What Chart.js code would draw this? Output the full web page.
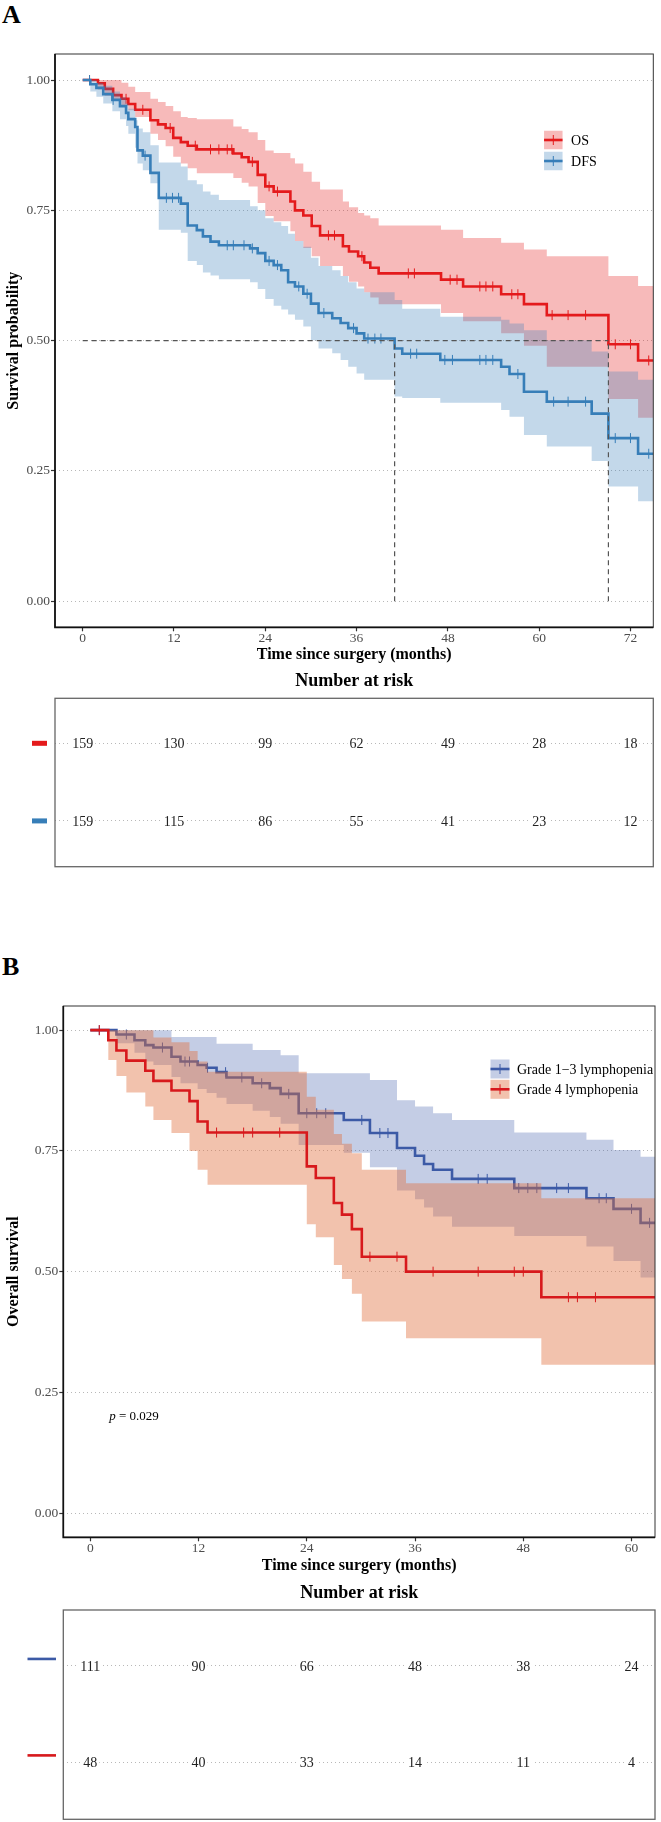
<!DOCTYPE html>
<html>
<head>
<meta charset="utf-8">
<title>Survival curves</title>
<script src="https://cdn.jsdelivr.net/npm/chart.js"></script>
<style>
  body { margin: 0; background: #fff; }
  #page { position: relative; width: 661px; height: 1822px; background: #fff; overflow: hidden; }
  #page canvas { position: absolute; left: 0; }
  .tag { position: absolute; left: 2px; font: bold 26px/1 "Liberation Serif", "Times New Roman", serif; color: #000; }
</style>
</head>
<body>
<div id="page">
  <div class="tag" style="top:2px">A</div>
  <canvas id="mainA" width="661" height="624" style="top:40px;width:661px;height:624px"></canvas>
  <canvas id="riskA" width="661" height="202" style="top:668px;width:661px;height:202px"></canvas>
  <div class="tag" style="top:954px">B</div>
  <canvas id="mainB" width="661" height="585" style="top:990px;width:661px;height:585px"></canvas>
  <canvas id="riskB" width="661" height="244" style="top:1578px;width:661px;height:244px"></canvas>
</div>
<script>
// ================= DATA : PANEL A =================
const timeTicksA = [0, 12, 24, 36, 48, 60, 72];
const survTicks = [0, 0.25, 0.5, 0.75, 1];

// OS (overall survival)
const osTime  = [0, 2.0, 2.9, 4.0, 5.1, 6.0, 6.9, 8.9, 9.9, 10.9, 11.9, 12.9, 13.8, 15.0, 19.8, 20.9, 21.8, 23.0, 24.0, 25.1, 27.3, 27.9, 29.0, 30.1, 31.2, 34.2, 35.0, 36.2, 37.0, 37.8, 38.9, 47.1, 50.0, 55.0, 58.0, 61.0, 69.1, 73.0, 75];
const osSurv  = [1, 0.994, 0.983, 0.971, 0.964, 0.954, 0.943, 0.923, 0.915, 0.908, 0.889, 0.881, 0.874, 0.867, 0.859, 0.852, 0.843, 0.818, 0.796, 0.786, 0.767, 0.750, 0.740, 0.720, 0.702, 0.681, 0.671, 0.662, 0.650, 0.640, 0.629, 0.617, 0.604, 0.589, 0.570, 0.549, 0.493, 0.462, 0.462];
const osUpper = [1, 1, 1, 1, 0.995, 0.987, 0.977, 0.964, 0.958, 0.950, 0.940, 0.929, 0.927, 0.925, 0.911, 0.906, 0.900, 0.885, 0.865, 0.860, 0.850, 0.840, 0.824, 0.805, 0.790, 0.767, 0.756, 0.745, 0.740, 0.735, 0.721, 0.713, 0.697, 0.688, 0.675, 0.662, 0.624, 0.605, 0.605];
const osLower = [1, 0.982, 0.970, 0.961, 0.951, 0.942, 0.929, 0.897, 0.885, 0.873, 0.853, 0.840, 0.831, 0.821, 0.812, 0.803, 0.796, 0.764, 0.739, 0.729, 0.710, 0.691, 0.678, 0.662, 0.643, 0.624, 0.613, 0.604, 0.593, 0.583, 0.570, 0.553, 0.537, 0.514, 0.490, 0.450, 0.388, 0.352, 0.352];
const osCensor = [0.9, 5.7, 7.9, 11.5, 14.8, 16.8, 17.9, 19.0, 19.6, 22.3, 24.5, 25.6, 32.3, 33.1, 36.7, 42.8, 43.6, 48.3, 49.2, 52.2, 53.0, 53.9, 56.4, 57.2, 61.7, 63.8, 66.1, 70.0, 72.0, 74.4];

// DFS (disease-free survival)
const dfsTime  = [0, 1.0, 1.8, 2.7, 3.9, 4.9, 5.7, 6.0, 6.9, 7.2, 7.9, 8.9, 10.0, 12.9, 13.8, 15.0, 15.8, 16.8, 17.9, 22.0, 23.0, 24.0, 25.1, 26.1, 27.0, 27.9, 29.0, 30.0, 31.0, 32.8, 33.9, 34.9, 36.0, 37.0, 41.0, 42.0, 47.0, 55.0, 56.1, 58.0, 61.0, 66.9, 69.1, 73.0, 75];
const dfsSurv  = [1, 0.992, 0.985, 0.973, 0.962, 0.950, 0.937, 0.925, 0.910, 0.865, 0.855, 0.822, 0.774, 0.763, 0.721, 0.712, 0.700, 0.690, 0.683, 0.677, 0.668, 0.653, 0.645, 0.635, 0.612, 0.604, 0.590, 0.571, 0.553, 0.543, 0.534, 0.524, 0.514, 0.504, 0.485, 0.475, 0.463, 0.450, 0.436, 0.402, 0.383, 0.360, 0.313, 0.283, 0.283];
const dfsUpper = [1, 1, 0.995, 0.989, 0.978, 0.967, 0.955, 0.945, 0.923, 0.907, 0.900, 0.875, 0.842, 0.834, 0.808, 0.800, 0.786, 0.780, 0.770, 0.758, 0.750, 0.735, 0.727, 0.720, 0.705, 0.691, 0.680, 0.659, 0.643, 0.635, 0.624, 0.612, 0.600, 0.593, 0.578, 0.561, 0.546, 0.540, 0.533, 0.520, 0.501, 0.479, 0.441, 0.425, 0.425];
const dfsLower = [1, 0.978, 0.968, 0.955, 0.940, 0.925, 0.912, 0.897, 0.870, 0.840, 0.827, 0.802, 0.713, 0.707, 0.653, 0.645, 0.631, 0.625, 0.618, 0.612, 0.599, 0.580, 0.567, 0.560, 0.550, 0.540, 0.527, 0.501, 0.485, 0.476, 0.463, 0.450, 0.437, 0.425, 0.393, 0.390, 0.381, 0.367, 0.354, 0.319, 0.297, 0.269, 0.220, 0.192, 0.192];
const dfsCensor = [0.9, 4.0, 8.2, 11.0, 11.8, 12.6, 19.0, 19.8, 21.2, 22.3, 24.5, 25.6, 28.4, 29.5, 31.7, 35.6, 37.5, 38.4, 39.2, 43.1, 43.9, 47.6, 48.6, 52.2, 53.0, 53.9, 57.2, 61.9, 63.8, 66.1, 70.0, 72.0, 74.4];

const medianTimesA = [41.0, 69.1];   // DFS and OS medians

const riskTimesA = [0, 12, 24, 36, 48, 60, 72];
const osRisk  = [159, 130, 99, 62, 49, 28, 18];
const dfsRisk = [159, 115, 86, 55, 41, 23, 12];

// ================= DATA : PANEL B =================
const timeTicksB = [0, 12, 24, 36, 48, 60];

// Grade 1-3 lymphopenia
const g13Time  = [0, 2.9, 4.9, 6.1, 7.0, 9.0, 10.0, 11.9, 12.9, 14.0, 15.1, 18.0, 19.9, 21.1, 23.1, 28.1, 31.0, 34.0, 36.0, 37.0, 38.0, 40.1, 47.0, 55.0, 58.0, 61.0, 62.6];
const g13Surv  = [1, 0.991, 0.979, 0.969, 0.964, 0.945, 0.935, 0.928, 0.922, 0.913, 0.902, 0.890, 0.880, 0.868, 0.828, 0.814, 0.787, 0.756, 0.740, 0.723, 0.711, 0.692, 0.673, 0.652, 0.630, 0.601, 0.601];
const g13Upper = [1, 1, 1, 1, 1, 0.986, 0.986, 0.986, 0.986, 0.972, 0.972, 0.959, 0.959, 0.948, 0.911, 0.911, 0.897, 0.855, 0.842, 0.842, 0.828, 0.814, 0.788, 0.773, 0.752, 0.738, 0.738];
const g13Lower = [1, 0.973, 0.953, 0.935, 0.928, 0.903, 0.890, 0.878, 0.870, 0.860, 0.847, 0.833, 0.820, 0.806, 0.762, 0.746, 0.716, 0.668, 0.650, 0.633, 0.614, 0.593, 0.574, 0.552, 0.522, 0.488, 0.488];
const g13Censor = [1.0, 4.0, 8.0, 10.5, 11.0, 13.0, 15.0, 16.8, 19.0, 22.0, 24.0, 25.1, 26.1, 30.1, 32.1, 33.0, 43.0, 44.0, 47.5, 48.5, 49.5, 51.7, 53.0, 56.4, 57.2, 60.0, 62.0];

// Grade 4 lymphopenia
const g4Time  = [0, 2.0, 2.9, 4.0, 6.1, 7.0, 9.0, 11.0, 11.9, 13.0, 24.0, 25.0, 27.0, 27.9, 29.0, 30.1, 35.0, 50.0, 62.6];
const g4Surv  = [1, 0.979, 0.958, 0.937, 0.916, 0.895, 0.875, 0.853, 0.811, 0.788, 0.718, 0.694, 0.642, 0.618, 0.588, 0.531, 0.500, 0.447, 0.447];
const g4Upper = [1, 1, 1, 1, 1, 0.985, 0.975, 0.957, 0.935, 0.914, 0.862, 0.835, 0.785, 0.765, 0.745, 0.711, 0.683, 0.652, 0.652];
const g4Lower = [1, 0.938, 0.905, 0.871, 0.842, 0.814, 0.787, 0.750, 0.711, 0.680, 0.598, 0.571, 0.514, 0.485, 0.454, 0.397, 0.362, 0.307, 0.307];
const g4Censor = [1.0, 14.0, 17.0, 18.0, 21.0, 31.0, 34.0, 38.0, 43.0, 47.0, 48.0, 53.0, 54.0, 56.0];

const riskTimesB = [0, 12, 24, 36, 48, 60];
const g13Risk = [111, 90, 66, 48, 38, 24];
const g4Risk  = [48, 40, 33, 14, 11, 4];

const pValueText = "0.029";
const pValueAt = [2.1, 0.2];

// ================= HELPERS =================
const SERIF = '"Liberation Serif", "Times New Roman", serif';
Chart.defaults.font.family = SERIF;

function stepData(times, vals) {
  return times.map((t, i) => ({ x: t, y: vals[i] }));
}

// value of a step curve at time t (used to put censor marks on the curve)
function valueAt(times, vals, t) {
  let k = 0;
  for (let i = 0; i < times.length; i++) if (times[i] <= t) k = i;
  return vals[k];
}

// ribbon (upper+lower), curve, censor ticks
function groupSets(time, surv, upper, lower, censor, color, band, order) {
  return [
    { data: stepData(time, upper), stepped: true, borderWidth: 0, borderColor: "transparent",
      pointRadius: 0, fill: "+1", backgroundColor: band, order: order },
    { data: stepData(time, lower), stepped: true, borderWidth: 0, borderColor: "transparent",
      pointRadius: 0, fill: false, order: order - 1 },
    { data: stepData(time, surv), stepped: true, borderWidth: 2.6, borderColor: color,
      pointRadius: 0, fill: false, order: order - 2 },
    { data: censor.map(t => ({ x: t, y: valueAt(time, surv, t) })), showLine: false,
      pointStyle: "line", rotation: 90, pointRadius: 5, pointBorderWidth: 1,
      pointBorderColor: color, pointBackgroundColor: color, order: order - 3 }
  ];
}

// ================= PLUGINS =================
const frame = {
  id: "frame",
  afterDraw(chart, args, opts) {
    const { ctx, chartArea: a } = chart;
    ctx.save();
    ctx.strokeStyle = opts.color;
    ctx.lineWidth = opts.width;
    ctx.strokeRect(a.left, a.top, a.right - a.left, a.bottom - a.top);
    if (opts.axes) {
      ctx.strokeStyle = "#111";
      ctx.lineWidth = 1.7;
      ctx.beginPath();
      ctx.moveTo(a.left, a.top);
      ctx.lineTo(a.left, a.bottom);
      ctx.lineTo(a.right, a.bottom);
      ctx.stroke();
    }
    ctx.restore();
  }
};

const keyLegend = {
  id: "keyLegend",
  afterDraw(chart, args, opts) {
    if (!opts.items) return;
    const { ctx, chartArea: a } = chart;
    const s = opts.size;
    ctx.save();
    opts.items.forEach((it, i) => {
      const cx = a.left + opts.x, cy = a.top + opts.y + i * opts.step;
      ctx.fillStyle = it.band;
      ctx.fillRect(cx - s / 2, cy - s / 2, s, s);
      ctx.strokeStyle = it.color;
      ctx.lineWidth = 2.6;
      ctx.beginPath(); ctx.moveTo(cx - s / 2, cy); ctx.lineTo(cx + s / 2, cy); ctx.stroke();
      ctx.lineWidth = 1;
      ctx.beginPath(); ctx.moveTo(cx, cy - 5); ctx.lineTo(cx, cy + 5); ctx.stroke();
      ctx.fillStyle = "#000";
      ctx.font = "14px " + SERIF;
      ctx.textAlign = "left";
      ctx.textBaseline = "middle";
      ctx.fillText(it.text, cx + s / 2 + opts.gap, cy + 1);
    });
    ctx.restore();
  }
};

const pNote = {
  id: "pNote",
  afterDraw(chart, args, opts) {
    if (!opts.text) return;
    const { ctx, scales } = chart;
    const x = scales.x.getPixelForValue(opts.at[0]);
    const y = scales.y.getPixelForValue(opts.at[1]);
    ctx.save();
    ctx.fillStyle = "#000";
    ctx.textBaseline = "middle";
    ctx.textAlign = "left";
    ctx.font = "italic 13px " + SERIF;
    ctx.fillText("p", x, y);
    const w = ctx.measureText("p").width;
    ctx.font = "13px " + SERIF;
    ctx.fillText(" = " + opts.text, x + w, y);
    ctx.restore();
  }
};

const riskText = {
  id: "riskText",
  afterDatasetsDraw(chart) {
    const { ctx } = chart;
    const ys = chart.scales.y;
    ctx.save();
    ctx.font = "14px " + SERIF;
    ctx.textAlign = "center";
    ctx.textBaseline = "middle";
    chart.data.datasets.forEach((ds, i) => {
      const meta = chart.getDatasetMeta(i);
      meta.data.forEach((pt, j) => {
        const txt = String(ds.data[j].n);
        const w = ctx.measureText(txt).width;
        ctx.fillStyle = "#fff";
        ctx.fillRect(pt.x - w / 2 - 2, pt.y - 6, w + 4, 12);
        ctx.fillStyle = "#222";
        ctx.fillText(txt, pt.x, pt.y + 1);
      });
      const py = ys.getPixelForValue(ds.data[0].y) + ds.markerDy;
      ctx.fillStyle = ds.markerColor;
      ctx.fillRect(ds.markerX, py - ds.markerH / 2, ds.markerW, ds.markerH);
    });
    ctx.restore();
  }
};

// ================= CHART BUILDERS =================
function mainChart(id, o) {
  return new Chart(document.getElementById(id), {
    type: "line",
    data: { datasets: o.datasets },
    plugins: [frame, keyLegend, pNote],
    options: {
      responsive: false, animation: false, devicePixelRatio: 1, events: [],
      layout: { padding: { top: o.padTop, right: o.padRight, left: 0, bottom: 0 } },
      plugins: {
        legend: { display: false },
        tooltip: { enabled: false },
        frame: { color: "#333", width: 1, axes: true },
        keyLegend: o.legend,
        pNote: o.note || {}
      },
      scales: {
        x: {
          type: "linear", min: o.xMin, max: o.xMax,
          afterBuildTicks: s => { s.ticks = o.xTicks.map(v => ({ value: v })); },
          afterFit: s => { s.height = o.xAxisH; },
          grid: { drawOnChartArea: false, drawTicks: true, tickLength: 4, tickColor: "#333", tickWidth: 1.2 },
          border: { display: false },
          ticks: { color: "#4d4d4d", font: { size: 13.5, lineHeight: 1 }, padding: 0, maxRotation: 0, autoSkip: false },
          title: { display: true, text: "Time since surgery (months)", color: "#000",
                   font: { size: 16, weight: "bold" }, padding: 0 }
        },
        y: {
          type: "linear", min: -0.05, max: 1.05,
          afterBuildTicks: s => { s.ticks = survTicks.map(v => ({ value: v })); },
          afterFit: s => { s.width = o.yAxisW; },
          grid: { color: "#b8b8b8", lineWidth: 1, drawTicks: true, tickLength: 4, tickColor: "#333", tickWidth: 1.2 },
          border: { display: false, dash: [1, 3] },
          ticks: { color: "#4d4d4d", font: { size: 13.5 }, padding: 1, callback: v => v.toFixed(2) },
          title: { display: true, text: o.yTitle, color: "#000",
                   font: { size: 16, weight: "bold" }, padding: { top: 4.4, bottom: 0 } }
        }
      }
    }
  });
}

function riskChart(id, o) {
  return new Chart(document.getElementById(id), {
    type: "line",
    data: { datasets: o.datasets },
    plugins: [frame, riskText],
    options: {
      responsive: false, animation: false, devicePixelRatio: 1, events: [],
      layout: { padding: { top: 0, right: o.padRight, left: 0, bottom: o.padBottom } },
      plugins: {
        legend: { display: false },
        tooltip: { enabled: false },
        frame: { color: "#666", width: 1.3, axes: false },
        title: { display: true, text: "Number at risk", fullSize: false, color: "#000",
                 font: { size: 18, weight: "bold" }, padding: { top: o.titleTop, bottom: o.titleBottom } }
      },
      scales: {
        x: { type: "linear", display: false, min: o.xMin, max: o.xMax },
        y: {
          type: "linear", min: 0.41, max: 2.58,
          afterBuildTicks: s => { s.ticks = [1, 2].map(v => ({ value: v })); },
          afterFit: s => { s.width = o.yAxisW; },
          grid: { color: "#b8b8b8", lineWidth: 1, drawTicks: false },
          border: { display: false, dash: [1, 3] },
          ticks: { display: false }
        }
      }
    }
  });
}

function riskSet(times, counts, row, color, marker) {
  return Object.assign({
    data: times.map((t, i) => ({ x: t, y: row, n: counts[i] })),
    showLine: false, pointRadius: 0, markerColor: color
  }, marker);
}

// ================= PANEL A =================
const RED_A = "#E41A1C", BLUE_A = "#377EB8";
const RED_A_BAND = "rgba(228,26,28,0.30)", BLUE_A_BAND = "rgba(55,126,184,0.30)";

const medianStyle = { borderColor: "#555", borderWidth: 1.2, borderDash: [5, 4], pointRadius: 0, fill: false, order: 0 };

mainChart("mainA", {
  datasets: [
    ...groupSets(osTime, osSurv, osUpper, osLower, osCensor, RED_A, RED_A_BAND, 20),
    ...groupSets(dfsTime, dfsSurv, dfsUpper, dfsLower, dfsCensor, BLUE_A, BLUE_A_BAND, 15),
    Object.assign({ data: [{ x: 0, y: 0.5 }, { x: Math.max(...medianTimesA), y: 0.5 }] }, medianStyle),
    ...medianTimesA.map(m => Object.assign({ data: [{ x: m, y: 0 }, { x: m, y: 0.5 }] }, medianStyle))
  ],
  xMin: -3.64, xMax: 75, xTicks: timeTicksA,
  padTop: 14, padRight: 7.7, xAxisH: 36.7, yAxisW: 55,
  yTitle: "Survival probability",
  legend: { x: 498.3, y: 86, step: 21, size: 18.5, gap: 8.5,
            items: [{ text: "OS", color: RED_A, band: RED_A_BAND }, { text: "DFS", color: BLUE_A, band: BLUE_A_BAND }] }
});

riskChart("riskA", {
  datasets: [
    riskSet(riskTimesA, osRisk, 2, RED_A, { markerX: 32, markerW: 15, markerH: 5, markerDy: 0 }),
    riskSet(riskTimesA, dfsRisk, 1, BLUE_A, { markerX: 32, markerW: 15, markerH: 5, markerDy: 0 })
  ],
  xMin: -3.64, xMax: 75, padRight: 7.7, padBottom: 3.3, yAxisW: 55,
  titleTop: 2.2, titleBottom: 6.5
});

// ================= PANEL B =================
const BLUE_B = "#3C5AA6", RED_B = "#D7191C";
const BLUE_B_BAND = "rgba(60,90,170,0.30)", RED_B_BAND = "rgba(225,110,60,0.42)";

mainChart("mainB", {
  datasets: [
    ...groupSets(g13Time, g13Surv, g13Upper, g13Lower, g13Censor, BLUE_B, BLUE_B_BAND, 20),
    ...groupSets(g4Time, g4Surv, g4Upper, g4Lower, g4Censor, RED_B, RED_B_BAND, 15)
  ],
  xMin: -2.99, xMax: 62.6, xTicks: timeTicksB,
  padTop: 16, padRight: 6, xAxisH: 37.7, yAxisW: 63.3,
  yTitle: "Overall survival",
  legend: { x: 436.7, y: 63, step: 20.3, size: 19, gap: 7.5,
            items: [{ text: "Grade 1\u22123 lymphopenia", color: BLUE_B, band: BLUE_B_BAND },
                    { text: "Grade 4 lymphopenia", color: RED_B, band: RED_B_BAND }] },
  note: { text: pValueText, at: pValueAt }
});

riskChart("riskB", {
  datasets: [
    riskSet(riskTimesB, g13Risk, 2, BLUE_B, { markerX: 27.5, markerW: 28.5, markerH: 2.6, markerDy: -7 }),
    riskSet(riskTimesB, g4Risk, 1, RED_B, { markerX: 27.5, markerW: 28.5, markerH: 2.6, markerDy: -7 })
  ],
  xMin: -2.99, xMax: 62.6, padRight: 6, padBottom: 2.7, yAxisW: 63.3,
  titleTop: 4.2, titleBottom: 6.2
});
</script>
</body>
</html>
